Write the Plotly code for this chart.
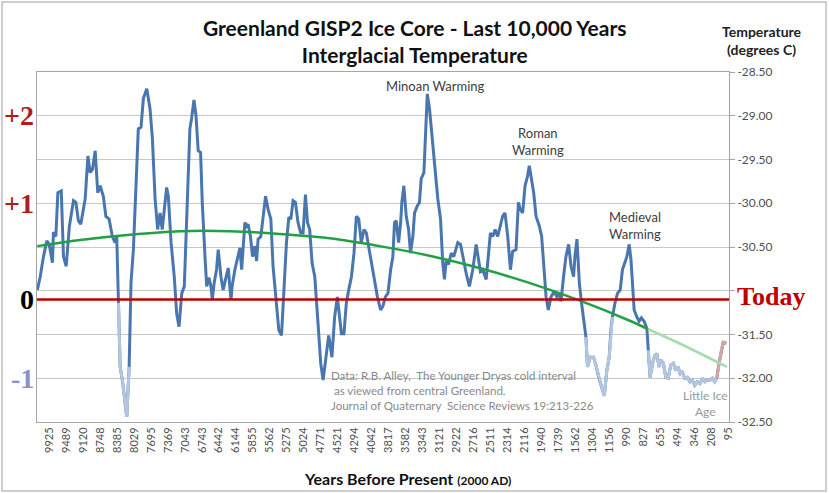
import plotly.graph_objects as go

# ---- data ----
year_labels = ["9925", "9489", "9120", "8748", "8385", "8029", "7695", "7369", "7043", "6743",
               "6442", "6144", "5855", "5562", "5275", "5024", "4771", "4521", "4294", "4042",
               "3817", "3582", "3343", "3121", "2922", "2716", "2511", "2314", "2116", "1940",
               "1739", "1562", "1304", "1156", "990", "827", "655", "494", "346", "208", "95"]

# position along the category axis (in units of one labelled category step)
pos = [-0.70, -0.53, -0.34, -0.14, 0.00, 0.12, 0.19, 0.25, 0.39, 0.51, 0.71, 0.84, 1.00, 1.19, 1.43,
       1.57, 1.72, 1.86, 2.02, 2.12, 2.28, 2.41, 2.55, 2.71, 2.86, 3.00, 3.19, 3.34, 3.53, 3.72,
       3.88, 3.98, 4.08, 4.18, 4.31, 4.57, 4.71, 4.82, 4.96, 5.06, 5.25, 5.41, 5.55, 5.75, 5.94,
       6.08, 6.24, 6.39, 6.53, 6.66, 6.82, 6.92, 7.02, 7.18, 7.37, 7.51, 7.65, 7.81, 7.96, 8.10,
       8.19, 8.29, 8.39, 8.53, 8.65, 8.78, 8.92, 9.02, 9.18, 9.28, 9.41, 9.53, 9.61, 9.72, 9.86,
       9.96, 10.12, 10.25, 10.39, 10.55, 10.71, 10.78, 10.94, 11.10, 11.24, 11.34, 11.43, 11.53,
       11.63, 11.72, 11.86, 11.98, 12.12, 12.22, 12.31, 12.47, 12.61, 12.75, 12.90, 13.06, 13.19,
       13.39, 13.53, 13.69, 13.84, 13.98, 14.12, 14.24, 14.37, 14.51, 14.66, 14.82, 14.96, 15.10,
       15.22, 15.35, 15.49, 15.65, 15.84, 16.00, 16.14, 16.34, 16.47, 16.66, 16.82, 16.98, 17.12,
       17.22, 17.37, 17.51, 17.65, 17.81, 17.96, 18.10, 18.24, 18.39, 18.55, 18.69, 18.82, 18.98,
       19.14, 19.34, 19.53, 19.66, 19.81, 19.96, 20.12, 20.25, 20.35, 20.45, 20.59, 20.71, 20.78,
       20.90, 21.04, 21.18, 21.29, 21.43, 21.53, 21.69, 21.82, 21.92, 22.08, 22.16, 22.28, 22.41,
       22.61, 22.75, 22.90, 23.06, 23.19, 23.29, 23.39, 23.53, 23.69, 23.84, 24.08, 24.24, 24.37,
       24.57, 24.76, 24.96, 25.16, 25.29, 25.41, 25.55, 25.75, 25.84, 26.00, 26.14, 26.28, 26.43,
       26.59, 26.72, 26.86, 27.02, 27.18, 27.31, 27.51, 27.65, 27.76, 27.90, 28.04, 28.19, 28.29,
       28.43, 28.55, 28.69, 28.88, 29.02, 29.14, 29.28, 29.41, 29.57, 29.76, 29.92, 30.06, 30.16,
       30.31, 30.45, 30.61, 30.75, 30.90, 30.98, 31.10, 31.24, 31.37, 31.49, 31.63, 31.72, 31.88,
       32.08, 32.22, 32.40, 32.47, 32.61, 32.71, 32.86, 33.00, 33.10, 33.19, 33.34, 33.49, 33.65,
       33.78, 33.92, 34.04, 34.18, 34.28, 34.37, 34.47, 34.63, 34.76, 34.90, 35.06, 35.22, 35.31,
       35.41, 35.55, 35.69, 35.81, 35.94, 36.04, 36.19, 36.34, 36.47, 36.63, 36.78, 36.92, 37.06,
       37.18, 37.31, 37.45, 37.61, 37.76, 37.90, 38.04, 38.19, 38.35, 38.49, 38.63, 38.78, 38.94,
       39.08, 39.22, 39.34, 39.47, 39.61, 39.72, 39.90]

temp = [-30.99, -30.84, -30.61, -30.43, -30.47, -30.64, -30.68, -30.33, -30.38, -29.88, -29.86, -30.61,
        -30.72, -30.26, -29.97, -29.99, -30.20, -30.24, -30.07, -29.95, -29.46, -29.65, -29.61, -29.40,
        -29.88, -29.80, -29.92, -30.15, -30.18, -30.38, -30.45, -30.38, -31.14, -31.87, -32.02, -32.44,
        -31.87, -30.91, -30.53, -29.99, -29.15, -29.13, -28.80, -28.69, -28.92, -29.26, -29.95, -30.30,
        -30.11, -30.30, -29.99, -29.82, -29.92, -30.45, -30.84, -31.26, -31.41, -31.03, -30.95, -30.26,
        -29.80, -29.15, -29.03, -28.82, -29.00, -29.40, -29.42, -29.99, -30.61, -30.95, -30.85, -30.95,
        -31.10, -30.91, -30.76, -30.53, -30.84, -30.99, -30.87, -30.74, -31.10, -30.95, -30.76, -30.64,
        -30.51, -30.76, -30.49, -30.22, -30.26, -30.24, -30.38, -30.61, -30.49, -30.66, -30.41, -30.38,
        -30.15, -29.92, -30.07, -30.18, -30.72, -31.10, -31.45, -31.51, -30.95, -30.45, -30.16, -30.18,
        -29.97, -29.99, -30.22, -30.34, -30.34, -29.90, -30.22, -30.30, -30.68, -30.84, -31.37, -31.83,
        -32.02, -31.72, -31.51, -31.76, -31.30, -31.07, -31.37, -31.49, -31.49, -31.14, -30.99, -30.84,
        -30.57, -30.15, -30.18, -30.45, -30.30, -30.34, -30.49, -30.68, -30.87, -31.07, -31.22, -31.18,
        -31.07, -31.03, -30.76, -30.61, -30.22, -30.20, -30.45, -30.22, -29.99, -29.80, -30.15, -30.30,
        -30.57, -30.38, -30.11, -30.03, -29.99, -29.72, -29.65, -29.23, -28.75, -28.92, -29.34, -29.57,
        -29.95, -30.18, -30.68, -30.87, -30.66, -30.70, -30.57, -30.61, -30.45, -30.47, -30.61, -30.80,
        -30.95, -30.76, -30.47, -30.64, -30.78, -30.76, -30.87, -30.68, -30.34, -30.38, -30.30, -30.38,
        -30.26, -30.15, -30.11, -30.38, -30.76, -30.55, -30.53, -29.99, -30.07, -30.11, -29.80, -29.69,
        -29.57, -29.76, -29.88, -30.15, -30.26, -30.38, -30.76, -31.07, -31.22, -31.07, -31.01, -31.07,
        -31.03, -31.12, -30.84, -30.61, -30.47, -30.72, -30.84, -30.61, -30.41, -30.91, -31.14, -31.30,
        -31.53, -31.87, -31.76, -31.76, -31.85, -32.00, -32.04, -32.14, -32.20, -31.91, -31.76, -31.45,
        -31.30, -31.14, -31.03, -30.99, -30.76, -30.68, -30.61, -30.47, -30.64, -30.91, -31.22, -31.30,
        -31.35, -31.31, -31.35, -31.43, -31.68, -31.99, -31.83, -31.74, -31.72, -31.87, -31.79, -31.83,
        -31.99, -32.00, -31.85, -31.83, -31.91, -31.87, -31.95, -31.93, -32.00, -31.99, -32.04, -32.02,
        -32.08, -32.04, -32.06, -32.00, -32.04, -32.02, -32.02, -32.00, -32.04, -32.00, -31.83, -31.68,
        -31.59, -31.60]

# polynomial trend line, read at a few positions
trend_pos = [-0.71, 1.82, 4.76, 7.71, 10.65, 13.59, 16.53, 19.47, 22.41, 25.35, 28.29, 31.24,
             34.18, 35.30, 37.12, 39.94]
trend_val = [-30.49, -30.42, -30.36, -30.32, -30.32, -30.35, -30.40, -30.49, -30.60, -30.74,
             -30.91, -31.11, -31.34, -31.44, -31.60, -31.87]

today_level = -31.10
y_ticks = [-32.5, -32.0, -31.5, -31.0, -30.5, -30.0, -29.5, -29.0, -28.5]

# faded stretches of the record (category positions)
light_ranges = [(4.08, 4.71), (31.63, 33.19), (35.31, 39.34)]
pink_range = (39.34, 39.90)

DARK_BLUE = "#4a76af"
LIGHT_BLUE = "#b3c6df"
PINK = "#d9a3a3"
GREEN = "#22a046"
LIGHT_GREEN = "#a9d9b2"
RED = "#c00000"


def masked(lo, hi):
    return [t if lo <= p <= hi else None for p, t in zip(pos, temp)]


fig = go.Figure()

fig.add_trace(go.Scatter(x=pos, y=temp, mode="lines",
                         line=dict(color=DARK_BLUE, width=3), hoverinfo="skip"))
for lo, hi in light_ranges:
    fig.add_trace(go.Scatter(x=pos, y=masked(lo, hi), mode="lines", connectgaps=False,
                             line=dict(color=LIGHT_BLUE, width=3), hoverinfo="skip"))
fig.add_trace(go.Scatter(x=pos, y=masked(*pink_range), mode="lines",
                         line=dict(color=PINK, width=3), hoverinfo="skip"))

split = 13
fig.add_trace(go.Scatter(x=trend_pos[:split + 1], y=trend_val[:split + 1], mode="lines",
                         line=dict(color=GREEN, width=2.5, shape="spline"), hoverinfo="skip"))
fig.add_trace(go.Scatter(x=trend_pos[split:], y=trend_val[split:], mode="lines",
                         line=dict(color=LIGHT_GREEN, width=2.5, shape="spline"), hoverinfo="skip"))

# "Today" reference line
fig.add_shape(type="line", xref="paper", yref="y", x0=0, x1=1, y0=today_level, y1=today_level,
              line=dict(color=RED, width=2.5))

FONT = "Lato"
TXT = "#404040"

ann = []
ann.append(dict(text="<b>Greenland GISP2 Ice Core - Last 10,000 Years<br>Interglacial Temperature</b>",
                xref="paper", yref="paper", x=0.546, y=1.089, xanchor="center", yanchor="middle",
                showarrow=False, font=dict(family=FONT, size=21, color="#111111"), align="center"))
ann.append(dict(text="<b>Temperature<br>(degrees C)</b>", xref="paper", yref="paper",
                x=1.048, y=1.089, xanchor="center", yanchor="middle", showarrow=False,
                font=dict(family=FONT, size=14, color="#222222"), align="center"))
ann.append(dict(text="<b>Years Before Present <span style='font-size:12px'>(2000 AD)</span></b>",
                xref="paper", yref="paper", x=0.535, y=-0.16, xanchor="center", yanchor="middle",
                showarrow=False, font=dict(family=FONT, size=16, color="#111111")))
ann.append(dict(text="Minoan Warming", xref="x", yref="y", x=22.76, y=-28.655, showarrow=False,
                font=dict(family=FONT, size=13, color=TXT)))
ann.append(dict(text="Roman<br>Warming", xref="x", yref="y", x=28.8, y=-29.29, showarrow=False,
                font=dict(family=FONT, size=13, color=TXT)))
ann.append(dict(text="Medieval<br>Warming", xref="x", yref="y", x=34.5, y=-30.25, showarrow=False,
                font=dict(family=FONT, size=13, color=TXT)))
ann.append(dict(text="Data: R.B. Alley,  The Younger Dryas cold interval<br>"
                     " as viewed from central Greenland.<br>"
                     "Journal of Quaternary  Science Reviews 19:213-226",
                xref="x", yref="y", x=16.5, y=-32.14, xanchor="left", showarrow=False, align="left",
                font=dict(family=FONT, size=11.5, color="#8a8a8a")))
ann.append(dict(text="Little Ice<br>Age", xref="x", yref="y", x=38.65, y=-32.29, showarrow=False,
                font=dict(family=FONT, size=12, color="#9a9a9a")))
ann.append(dict(text="<b>Today</b>", xref="paper", yref="y", x=1.008, y=today_level + 0.03,
                xanchor="left", showarrow=False,
                font=dict(family="Liberation Serif", size=26, color=RED)))
serif = "Liberation Serif"
for txt, yv, col in [("+2", -29.0, "#b01c1c"), ("+1", -30.0, "#b01c1c"),
                     ("0", today_level, "#000000"), ("-1", -32.0, "#8c8fc8")]:
    ann.append(dict(text="<b>" + txt + "</b>", xref="paper", yref="y", x=-0.002, y=yv,
                    xanchor="right", showarrow=False, font=dict(family=serif, size=28, color=col)))

# outer chart frame
frame = dict(type="rect", xref="paper", yref="paper",
             x0=-35 / 692, x1=1 + 97 / 692, y0=-69 / 350, y1=1 + 70 / 350,
             line=dict(color="#bfbfbf", width=1.5), fillcolor="rgba(0,0,0,0)", layer="below")
fig.add_shape(**frame)

fig.update_layout(
    width=829, height=493,
    margin=dict(l=37, r=100, t=72, b=71),
    paper_bgcolor="white", plot_bgcolor="white",
    showlegend=False,
    annotations=ann,
    xaxis=dict(range=[-0.72, 40.06], tickmode="array", tickvals=list(range(len(year_labels))),
               ticktext=year_labels, tickangle=-90, showgrid=False, zeroline=False,
               showline=True, linecolor="#a6a6a6", linewidth=1, mirror=True, ticks="",
               tickfont=dict(family=FONT, size=11, color="#505050")),
    yaxis=dict(range=[-32.5, -28.5], side="right", tickmode="array", tickvals=y_ticks,
               ticktext=["" if abs(v + 31.0) < 1e-9 else f"{v:.2f}" for v in y_ticks],
               showgrid=True, gridcolor="#c8c8c8", gridwidth=1, zeroline=False,
               showline=True, linecolor="#a6a6a6", linewidth=1, mirror=True,
               ticks="outside", ticklen=5, tickcolor="#a6a6a6",
               tickfont=dict(family=FONT, size=12, color="#505050")),
)

fig.write_html("out.html")
